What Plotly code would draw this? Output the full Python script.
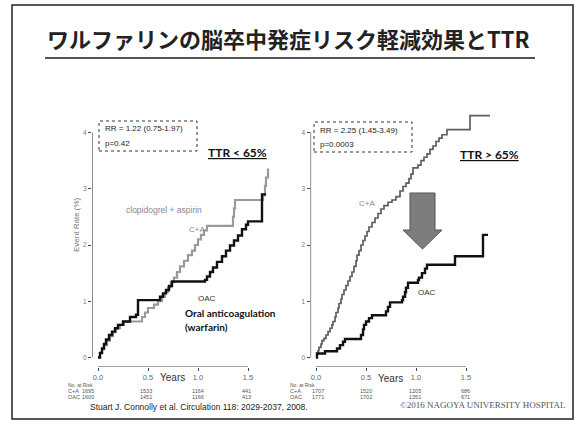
import plotly.graph_objects as go

# ---- Kaplan-Meier style event curves (years, cumulative event rate %) ----
# TTR < 65%
left_ca_t = [0.00, 0.02, 0.04, 0.06, 0.09, 0.12, 0.15, 0.18, 0.22, 0.26, 0.44, 0.47, 0.50,
             0.56, 0.60, 0.64, 0.67, 0.70, 0.73, 0.76, 0.79, 0.82, 0.86, 0.90, 0.94, 0.97,
             1.00, 1.03, 1.06, 1.09, 1.35, 1.36, 1.37, 1.65, 1.67, 1.68, 1.70]
left_ca_y = [0.00, 0.08, 0.15, 0.22, 0.30, 0.38, 0.45, 0.52, 0.58, 0.64, 0.72, 0.80, 0.88,
             0.94, 1.00, 1.08, 1.16, 1.25, 1.34, 1.42, 1.52, 1.62, 1.72, 1.82, 1.90, 2.00,
             2.10, 2.18, 2.26, 2.34, 2.50, 2.65, 2.80, 2.88, 3.05, 3.20, 3.36]
left_oac_t = [0.00, 0.02, 0.04, 0.06, 0.08, 0.11, 0.14, 0.17, 0.20, 0.25, 0.32, 0.38, 0.40,
              0.62, 0.65, 0.68, 0.71, 0.74, 1.07, 1.09, 1.12, 1.15, 1.19, 1.24, 1.28, 1.32,
              1.36, 1.40, 1.44, 1.48, 1.50, 1.64, 1.68]
left_oac_y = [0.00, 0.08, 0.16, 0.24, 0.32, 0.40, 0.46, 0.52, 0.58, 0.64, 0.72, 0.76, 1.02,
              1.08, 1.14, 1.20, 1.27, 1.35, 1.38, 1.44, 1.52, 1.60, 1.70, 1.80, 1.90, 1.99,
              2.08, 2.17, 2.28, 2.36, 2.42, 2.90, 2.90]

# TTR > 65%
right_ca_t = [0.00, 0.01, 0.02, 0.03, 0.05, 0.06, 0.08, 0.10, 0.12, 0.14, 0.16, 0.17, 0.19,
              0.20, 0.22, 0.23, 0.25, 0.26, 0.28, 0.30, 0.32, 0.34, 0.36, 0.38, 0.40, 0.41,
              0.43, 0.45, 0.47, 0.49, 0.51, 0.53, 0.56, 0.59, 0.62, 0.65, 0.68, 0.72, 0.76,
              0.80, 0.84, 0.87, 0.90, 0.93, 0.95, 0.97, 1.02, 1.05, 1.08, 1.11, 1.14, 1.17,
              1.20, 1.23, 1.26, 1.31, 1.54, 1.74]
right_ca_y = [0.00, 0.06, 0.12, 0.18, 0.24, 0.30, 0.34, 0.40, 0.46, 0.52, 0.58, 0.64, 0.72,
              0.80, 0.88, 0.96, 1.04, 1.12, 1.20, 1.28, 1.36, 1.44, 1.52, 1.62, 1.72, 1.82,
              1.90, 2.00, 2.08, 2.16, 2.24, 2.32, 2.40, 2.48, 2.56, 2.64, 2.70, 2.76, 2.80,
              2.86, 2.96, 3.04, 3.10, 3.18, 3.26, 3.37, 3.42, 3.50, 3.56, 3.62, 3.70, 3.76,
              3.84, 3.90, 3.96, 4.05, 4.30, 4.30]
right_oac_t = [0.00, 0.01, 0.09, 0.21, 0.24, 0.27, 0.29, 0.45, 0.47, 0.48, 0.50, 0.53, 0.56,
               0.70, 0.72, 0.74, 0.86, 0.87, 0.89, 0.90, 0.92, 1.02, 1.03, 1.06, 1.09, 1.11,
               1.39, 1.67, 1.69, 1.72]
right_oac_y = [0.00, 0.07, 0.11, 0.16, 0.22, 0.28, 0.33, 0.40, 0.50, 0.58, 0.64, 0.70, 0.75,
               0.82, 0.90, 0.98, 1.02, 1.08, 1.16, 1.24, 1.33, 1.38, 1.42, 1.50, 1.58, 1.65,
               1.80, 2.18, 2.18, 2.18]

year_ticks = [0.0, 0.5, 1.0, 1.5]
year_labels = ["0.0", "0.5", "1.0", "1.5"]
rate_ticks = [0, 1, 2, 3, 4]
rate_labels = ["0", "1", "2", "3", "4"]

# numbers at risk
left_risk_ca = ["1695", "1533", "1164", "441"]
left_risk_oac = ["1600", "1451", "1166", "413"]
right_risk_ca = ["1707", "1520", "1205", "686"]
right_risk_oac = ["1771", "1702", "1351", "671"]

left_stats = ["RR = 1.22 (0.75-1.97)", "p=0.42"]
right_stats = ["RR = 2.25 (1.45-3.49)", "p=0.0003"]

# ---- page geometry (pixels) ----
W, H = 577, 428
def fx(x):
    return x / W
def fy(y):
    return 1 - y / H

Y0_PX, PX_PER_UNIT = 357.5, 56.25
Y_RANGE = [-0.17, 4.5]
y_dom = [fy(Y0_PX - Y_RANGE[0] * PX_PER_UNIT), fy(Y0_PX - Y_RANGE[1] * PX_PER_UNIT)]
L_XRANGE = [-0.06, 1.80]
R_XRANGE = [-0.055, 1.80]
L_XDOM = [fx(92), fx(92 + (L_XRANGE[1] - L_XRANGE[0]) * 100)]
R_XDOM = [fx(310.5), fx(310.5 + (R_XRANGE[1] - R_XRANGE[0]) * 100)]

SANS = "Liberation Sans, Arial, sans-serif"
GREY_CA = "#9a9a9a"
DARK_CA = "#5e5e5e"

fig = go.Figure()
fig.add_trace(go.Scatter(x=left_ca_t, y=left_ca_y, mode="lines", line_shape="hv",
                         line=dict(color=GREY_CA, width=2.2), xaxis="x", yaxis="y"))
fig.add_trace(go.Scatter(x=left_oac_t, y=left_oac_y, mode="lines", line_shape="hv",
                         line=dict(color="#111111", width=2.4), xaxis="x", yaxis="y"))
fig.add_trace(go.Scatter(x=right_ca_t, y=right_ca_y, mode="lines", line_shape="hv",
                         line=dict(color=DARK_CA, width=1.7), xaxis="x2", yaxis="y2"))
fig.add_trace(go.Scatter(x=right_oac_t, y=right_oac_y, mode="lines", line_shape="hv",
                         line=dict(color="#111111", width=2.4), xaxis="x2", yaxis="y2"))

axis_common = dict(showgrid=False, zeroline=False, showline=False, ticks="outside",
                   ticklen=3, tickwidth=1, tickcolor="#444")
xcommon = dict(axis_common, tickvals=year_ticks, ticktext=year_labels,
               tickfont=dict(family=SANS, size=7.5, color="#666"))
ycommon = dict(axis_common, tickvals=rate_ticks, ticktext=rate_labels, range=Y_RANGE,
               domain=y_dom, tickfont=dict(family=SANS, size=6.5, color="#777"))

shapes = []
# slide frame and title rule
shapes.append(dict(type="rect", xref="paper", yref="paper", x0=fx(12), x1=fx(573),
                   y0=fy(419), y1=fy(5), line=dict(color="#222", width=1.5)))
shapes.append(dict(type="line", xref="paper", yref="paper", x0=fx(45), x1=fx(535),
                   y0=fy(58), y1=fy(58), line=dict(color="#555", width=1.8)))
# axis lines for both panels
for xr, yr, xmin in (("x", "y", L_XRANGE[0]), ("x2", "y2", R_XRANGE[0])):
    shapes.append(dict(type="line", xref=xr, yref=yr, x0=xmin, x1=xmin, y0=0, y1=4,
                       line=dict(color="#444", width=1.2)))
    shapes.append(dict(type="line", xref=xr, yref=yr, x0=0, x1=1.5,
                       y0=Y_RANGE[0], y1=Y_RANGE[0], line=dict(color="#444", width=1.2)))
# statistics boxes
shapes.append(dict(type="rect", xref="paper", yref="paper", x0=fx(99), x1=fx(197),
                   y0=fy(151), y1=fy(121), line=dict(color="#333", width=1, dash="dot")))
shapes.append(dict(type="rect", xref="paper", yref="paper", x0=fx(314), x1=fx(412),
                   y0=fy(152), y1=fy(122), line=dict(color="#333", width=1, dash="dot")))
# downward arrow between the two curves
arrow = [(410, 193), (435, 193), (435, 230), (442, 230), (422.5, 249), (403, 230), (410, 230)]
path = "M " + " L ".join(f"{fx(a):.5f},{fy(b):.5f}" for a, b in arrow) + " Z"
shapes.append(dict(type="path", xref="paper", yref="paper", path=path,
                   fillcolor="#7d7d7d", line=dict(color="#555", width=1)))

ann = []
def text(x, y, s, size, color="#222", xanchor="center", family=SANS, xref="paper",
         yref="paper", **kw):
    ann.append(dict(x=x, y=y, xref=xref, yref=yref, text=s, showarrow=False,
                    xanchor=xanchor, yanchor="middle",
                    font=dict(family=family, size=size, color=color), **kw))

text(fx(288), fy(38), "<b>ワルファリンの脳卒中発症リスク軽減効果とTTR</b>", 22, "#222",
     family="Noto Sans CJK JP, sans-serif")

text(fx(76), fy(225), "Event Rate (%)", 8, "#777", textangle=-90)

# stats
text(fx(103), fy(129), left_stats[0], 8, "#222", xanchor="left")
text(fx(103), fy(143), left_stats[1], 8, "#222", xanchor="left")
text(fx(318), fy(130), right_stats[0], 8, "#222", xanchor="left")
text(fx(318), fy(144), right_stats[1], 8, "#222", xanchor="left")

text(fx(237), fy(153), "<b><u>TTR < 65%</u></b>", 12, "#111", family="Lato, sans-serif")
text(fx(489), fy(154), "<b><u>TTR > 65%</u></b>", 12, "#111", family="Lato, sans-serif")

# curve labels
text(fx(164), fy(210), "clopidogrel + aspirin", 8.5, "#888")
text(0.99, 2.27, "C+A", 8, "#888", xref="x", yref="y")
text(1.09, 1.05, "OAC", 8, "#333", xref="x", yref="y")
text(0.51, 2.73, "C+A", 8, "#888", xref="x2", yref="y2")
text(1.11, 1.15, "OAC", 8, "#333", xref="x2", yref="y2")
text(fx(183), fy(313), "<b>Oral anticoagulation</b>", 10, "#111", xanchor="left",
     family="Lato, sans-serif")
text(fx(183), fy(327), "<b>(warfarin)</b>", 10, "#111", xanchor="left",
     family="Lato, sans-serif")

# axis titles
text(fx(172), fy(377), "Years", 10, "#333")
text(fx(390), fy(378), "Years", 10, "#333")

# numbers at risk
for xr, lab_x, ca, oac, shifts in (("x", 66, left_risk_ca, left_risk_oac, [-10, -2, 0, -2]),
                                   ("x2", 288, right_risk_ca, right_risk_oac, [2, 0, -1, -1])):
    text(fx(lab_x), fy(385), "No. at Risk", 5, "#555", xanchor="left")
    text(fx(lab_x), fy(391), "C+A", 5.5, "#555", xanchor="left")
    text(fx(lab_x), fy(397), "OAC", 5.5, "#555", xanchor="left")
    for yr, a, b, s in zip(year_ticks, ca, oac, shifts):
        text(yr, fy(391), a, 5.5, "#555", xref=xr, xshift=s)
        text(yr, fy(397), b, 5.5, "#555", xref=xr, xshift=s)

# footer
text(fx(199), fy(407), "Stuart J. Connolly et al. Circulation 118: 2029-2037, 2008.", 8.5, "#222")
text(fx(483), fy(405), "©2016 NAGOYA UNIVERSITY HOSPITAL", 9, "#555",
     family="Liberation Serif, Times New Roman, serif")

fig.update_layout(
    width=W, height=428, autosize=False,
    margin=dict(l=0, r=0, t=0, b=0),
    paper_bgcolor="white", plot_bgcolor="rgba(0,0,0,0)",
    showlegend=False,
    xaxis=dict(xcommon, domain=L_XDOM, range=L_XRANGE, anchor="y"),
    yaxis=dict(ycommon, anchor="x"),
    xaxis2=dict(xcommon, domain=R_XDOM, range=R_XRANGE, anchor="y2"),
    yaxis2=dict(ycommon, anchor="x2"),
    shapes=shapes,
    annotations=ann,
)

fig.write_html("out.html")
